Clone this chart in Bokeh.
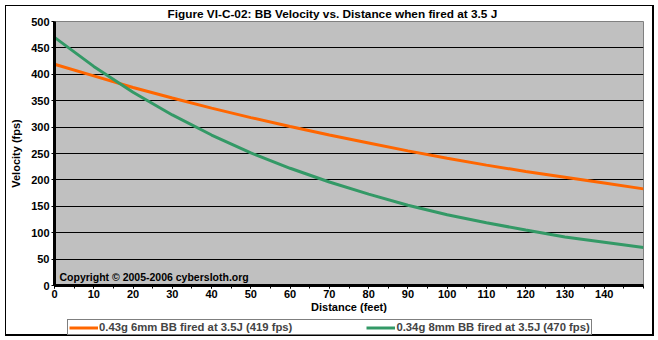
from bokeh.plotting import figure
from bokeh.layouts import column
from bokeh.models import (Label, Legend, LegendItem, FixedTicker, Range1d)
from bokeh.embed import file_html
from bokeh.resources import INLINE

# ---- data ----
distance_ft = [0, 10, 20, 30, 40, 50, 60, 70, 80, 90, 100, 110, 120, 130, 140, 150]
vel_6mm = [419, 397, 375, 355, 336, 318, 301, 285, 270, 255, 241, 228, 216, 205, 194, 183]
vel_8mm = [470, 415, 366, 323, 285, 251, 222, 196, 173, 152, 134, 119, 105, 92, 82, 72]
name_6mm = "0.43g 6mm BB fired at 3.5J (419 fps)"
name_8mm = "0.34g 8mm BB fired at 3.5J (470 fps)"
x_major = [0, 10, 20, 30, 40, 50, 60, 70, 80, 90, 100, 110, 120, 130, 140]
x_minor = list(range(0, 151, 5))
y_major = [0, 50, 100, 150, 200, 250, 300, 350, 400, 450, 500]
y_grid = [50, 100, 150, 200, 250, 300, 350, 400, 450]

FONT = "Liberation Sans"
ORANGE, GREEN = "#FF6600", "#339966"
W, H1, H2 = 658, 319, 21
L, R, T, B = 54, 15, 21, 34

p = figure(width=W, height=H1, output_backend="svg", toolbar_location=None,
           x_range=Range1d(0, 150), y_range=Range1d(0, 500),
           min_border_left=L, min_border_right=R, min_border_top=T, min_border_bottom=B,
           title="Figure VI-C-02:  BB Velocity vs. Distance when fired at 3.5 J")
p.background_fill_color = "#C0C0C0"
p.border_fill_alpha = 0
p.outline_line_color = "#808080"
p.outline_line_width = 1

p.title.align = "left"
p.title.offset = 113
p.title.text_font = FONT
p.title.text_font_style = "bold"
p.title.text_font_size = "11.8px"
p.title.text_color = "black"
p.title.standoff = 1

r1 = p.line(distance_ft, vel_6mm, line_color=ORANGE, line_width=3)
r2 = p.line(distance_ft, vel_8mm, line_color=GREEN, line_width=3)

p.xgrid.visible = False
p.ygrid.ticker = FixedTicker(ticks=y_grid)
p.ygrid.grid_line_color = "black"
p.ygrid.grid_line_width = 1

for ax in (p.xaxis[0], p.yaxis[0]):
    ax.axis_line_color = "black"
    ax.axis_line_width = 3
    ax.major_tick_line_color = "black"
    ax.major_tick_in = 0
    ax.major_tick_out = 3
    ax.minor_tick_line_color = "black"
    ax.minor_tick_in = 0
    ax.minor_tick_out = 3
    ax.major_label_text_font = FONT
    ax.major_label_text_font_style = "bold"
    ax.major_label_text_font_size = "11px"
    ax.major_label_text_color = "black"
    ax.major_label_standoff = 2
    ax.axis_label_text_font = FONT
    ax.axis_label_text_font_style = "bold"
    ax.axis_label_text_font_size = "11px"
    ax.axis_label_text_color = "black"

p.xaxis.ticker = FixedTicker(ticks=x_major, minor_ticks=x_minor)
p.yaxis.ticker = FixedTicker(ticks=y_major, minor_ticks=[])
p.xaxis.major_label_standoff = 1
p.xaxis.axis_label = "Distance (feet)"
p.yaxis.axis_label = "Velocity (fps)"
p.xaxis.axis_label_standoff = 0
p.yaxis.axis_label_standoff = 6

p.add_layout(Label(x=5, y=9, x_units="screen", y_units="screen",
                   text="Copyright \u00a9 2005-2006 cybersloth.org",
                   text_font=FONT, text_font_style="bold", text_font_size="10.5px",
                   text_color="black", text_align="left", text_baseline="alphabetic"))

# ---- legend strip below the chart (its lines fall outside this strip's ranges) ----
p2 = figure(width=W, height=H2, output_backend="svg", toolbar_location=None,
            x_range=Range1d(0, 150), y_range=Range1d(-2, -1),
            min_border_left=L, min_border_right=R, min_border_top=0, min_border_bottom=0,
            x_axis_location=None, y_axis_location=None)
p2.outline_line_color = None
p2.border_fill_alpha = 0
p2.background_fill_alpha = 0
p2.grid.visible = False
lr1 = p2.line(distance_ft, vel_6mm, line_color=ORANGE, line_width=3)
lr2 = p2.line(distance_ft, vel_8mm, line_color=GREEN, line_width=3)
legend = Legend(items=[LegendItem(label=name_6mm, renderers=[lr1]),
                       LegendItem(label=name_8mm, renderers=[lr2])],
                orientation="horizontal", location=(13, 5),
                label_text_font=FONT, label_text_font_style="bold",
                label_text_font_size="11.3px", label_standoff=1,
                glyph_width=29, glyph_height=11, label_height=11,
                padding=1, spacing=74, margin=0,
                border_line_color="black", border_line_width=1,
                background_fill_color="white", background_fill_alpha=1)
p2.add_layout(legend, "center")

bg = ", ".join([
    "linear-gradient(#000,#000) 5px 5px / 649px 1px no-repeat",
    "linear-gradient(#000,#000) 5px 334px / 649px 2px no-repeat",
    "linear-gradient(#000,#000) 5px 5px / 1px 331px no-repeat",
    "linear-gradient(#000,#000) 652px 5px / 2px 331px no-repeat",
    "#ffffff",
])
layout = column(p, p2, spacing=0, styles={"background": bg})

open("out.html", "w").write(file_html(layout, INLINE))
